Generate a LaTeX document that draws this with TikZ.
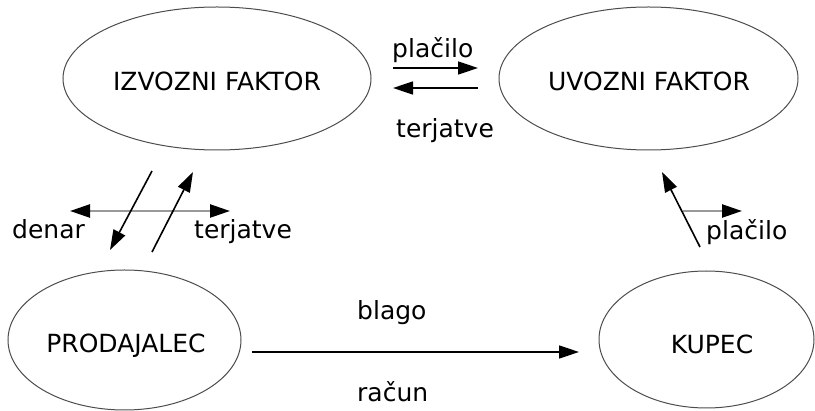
\documentclass[tikz,border=0pt]{standalone}
\usepackage{fontspec}
\setmainfont{DejaVu Sans}
\usetikzlibrary{arrows.meta,shapes.geometric}
\begin{document}
\begin{tikzpicture}[x=1pt,y=-1pt,
  party/.style={draw=black!70,line width=1pt,ellipse,inner sep=0pt},
  lbl/.style={font=\fontsize{25}{30}\selectfont,inner sep=0pt},
  flow/.style={line width=1.6pt,-{Triangle[length=20pt,width=13pt]}},
  side/.style={draw=black!40,line width=2.4pt,-{Triangle[length=20pt,width=13pt,fill=black,color=black]}}]
\useasboundingbox (0,0) rectangle (815,411);
\node[party,minimum width=308pt,minimum height=143pt] (izv) at (217,78.5) {};
\node[lbl,anchor=base] at (217,91) {IZVOZNI FAKTOR};
\node[party,minimum width=299pt,minimum height=143pt] (uvo) at (648.5,78.5) {};
\node[lbl,anchor=base] at (649,91) {UVOZNI FAKTOR};
\node[party,minimum width=233pt,minimum height=140pt] (pro) at (124.5,340) {};
\node[lbl,anchor=base] at (126,353) {PRODAJALEC};
\node[party,minimum width=215pt,minimum height=137pt] (kup) at (706.5,339.5) {};
\node[lbl,anchor=base] at (712,354) {KUPEC};
% top arrows
\coordinate (p1) at (393,68); \coordinate (p2) at (478,68);
\coordinate (t1) at (478,88); \coordinate (t2) at (393,88);
\draw[flow] (p1) -- (p2);
\draw[flow] (t1) -- (t2);
\node[lbl,anchor=base west] (lp) at (392,58) {plačilo};
\node[lbl,anchor=base west] (lt) at (396,138) {terjatve};
% left side
\coordinate (m) at (150,211);
\coordinate (dl) at (70,211);
\coordinate (dr) at (230,211);
\draw[side] (m) -- (dl);
\draw[side] (m) -- (dr);
\coordinate (a1) at (152,171); \coordinate (a2) at (110,250);
\coordinate (b1) at (152,252); \coordinate (b2) at (193,172);
\draw[flow] (a1) -- (a2);
\draw[flow] (b1) -- (b2);
\node[lbl,anchor=base west] (ld) at (12,239) {denar};
\node[lbl,anchor=base west] (lt2) at (194,239) {terjatve};
% right side
\coordinate (r0) at (683,211); \coordinate (r1) at (742,211);
\draw[side] (r0) -- (r1);
\coordinate (c1) at (700,247); \coordinate (c2) at (662,172);
\draw[flow] (c1) -- (c2);
\node[lbl,anchor=base west] (lp2) at (706,240) {plačilo};
% bottom
\coordinate (g1) at (252,352); \coordinate (g2) at (579,352);
\draw[flow] (g1) -- (g2);
\node[lbl,anchor=base west] (lb) at (357,320) {blago};
\node[lbl,anchor=base west] (lr) at (357,402) {račun};
\end{tikzpicture}
\end{document}
